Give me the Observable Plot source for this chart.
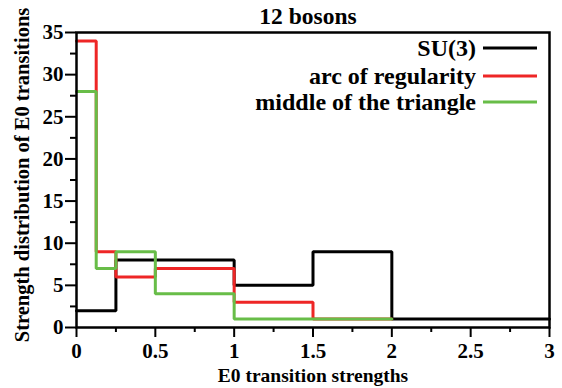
<!DOCTYPE html>
<html>
<head>
<meta charset="utf-8">
<script src="https://cdn.jsdelivr.net/npm/d3@7"></script>
<script src="https://cdn.jsdelivr.net/npm/@observablehq/plot@0.6"></script>
<style>
  html, body { margin: 0; padding: 0; background: #fff; }
  svg { display: block; }
</style>
</head>
<body>
<div id="chart"></div>
<script>
// Series: bin edges (left edge of each step) and step heights
const seriesNames = ["SU(3)", "arc of regularity", "middle of the triangle"];
const seriesColors = ["#000000", "#ee2626", "#68bd48"];

const su3Edges  = [0, 0.25, 1, 1.5, 2, 3];
const su3Values = [2, 8, 5, 9, 1, 1];

const arcEdges  = [0, 0.125, 0.25, 0.5, 1, 1.5, 2];
const arcValues = [34, 9, 6, 7, 3, 1, 1];

const midEdges  = [0, 0.125, 0.25, 0.5, 1, 2];
const midValues = [28, 7, 9, 4, 1, 1];

const xTicks = [0, 0.5, 1, 1.5, 2, 2.5, 3];
const xMinorTicks = [0.25, 0.75, 1.25, 1.75, 2.25, 2.75];
const yTicks = [0, 5, 10, 15, 20, 25, 30, 35];
const yMinorTicks = [2.5, 7.5, 12.5, 17.5, 22.5, 27.5, 32.5];

const titleText = "12 bosons";
const xLabel = "E0 transition strengths";
const yLabel = "Strength distribution of E0 transitions";

const toRows = (edges, values, name) => edges.map((x, i) => ({x, y: values[i], name}));
const rows = [
  toRows(su3Edges, su3Values, seriesNames[0]),
  toRows(arcEdges, arcValues, seriesNames[1]),
  toRows(midEdges, midValues, seriesNames[2])
];

const font = "'Liberation Serif', 'Times New Roman', serif";

const plot = Plot.plot({
  width: 562,
  height: 388,
  marginLeft: 76,
  marginRight: 13,
  marginTop: 32,
  marginBottom: 61,
  style: {fontFamily: font, fontWeight: "bold", fontSize: "21px", color: "#000", background: "#fff"},
  x: {domain: [0, 3]},
  y: {domain: [0, 35]},
  marks: [
    // axes: major and minor ticks
    Plot.axisX({ticks: xTicks, tickSize: 10, tickPadding: 6, tickFormat: d => String(d), strokeWidth: 2, label: null, fontSize: 21}),
    Plot.axisX({ticks: xMinorTicks, tickSize: 5, text: null, strokeWidth: 2, label: null}),
    Plot.axisY({ticks: yTicks, tickSize: 11, tickPadding: 2, tickFormat: d => String(d), strokeWidth: 2, label: null, fontSize: 21}),
    Plot.axisY({ticks: yMinorTicks, tickSize: 6, text: null, strokeWidth: 2, label: null}),
    // step lines
    ...rows.map((r, i) => Plot.line(r, {x: "x", y: "y", curve: "step-after", stroke: seriesColors[i], strokeWidth: 3, strokeLinejoin: "miter"})),
    Plot.frame({stroke: "#000", strokeWidth: 2.5}),
    // title and axis labels
    Plot.text([titleText], {frameAnchor: "top", lineAnchor: "middle", dy: -16, dx: -5, fontSize: 23.5, fontWeight: "bold"}),
    Plot.text([xLabel], {frameAnchor: "bottom", lineAnchor: "middle", dy: 48, fontSize: 19.5, fontWeight: "bold"}),
    Plot.text([yLabel], {frameAnchor: "left", textAnchor: "middle", lineAnchor: "middle", rotate: -90, dx: -54, dy: -5, fontSize: 20.5, fontWeight: "bold"})
  ]
});

// Legend in the upper right of the frame: right-aligned names with line samples
const svg = d3.select(plot);
const xRange = plot.scale("x").range;
const yRange = plot.scale("y").range;
const frameRight = xRange[1], frameTop = yRange[1];
const legend = svg.append("g")
  .attr("font-family", font)
  .attr("font-weight", "bold")
  .attr("font-size", 24);
const rowOffsets = [16, 44, 70];
seriesNames.forEach((name, i) => {
  const y = frameTop + rowOffsets[i];
  legend.append("text")
    .attr("x", frameRight - 73)
    .attr("y", y)
    .attr("dy", "0.33em")
    .attr("text-anchor", "end")
    .attr("fill", "#000")
    .text(name);
  legend.append("line")
    .attr("x1", frameRight - 66).attr("x2", frameRight - 12)
    .attr("y1", y).attr("y2", y)
    .attr("stroke", seriesColors[i])
    .attr("stroke-width", 3);
});

document.getElementById("chart").appendChild(plot);
</script>
</body>
</html>
